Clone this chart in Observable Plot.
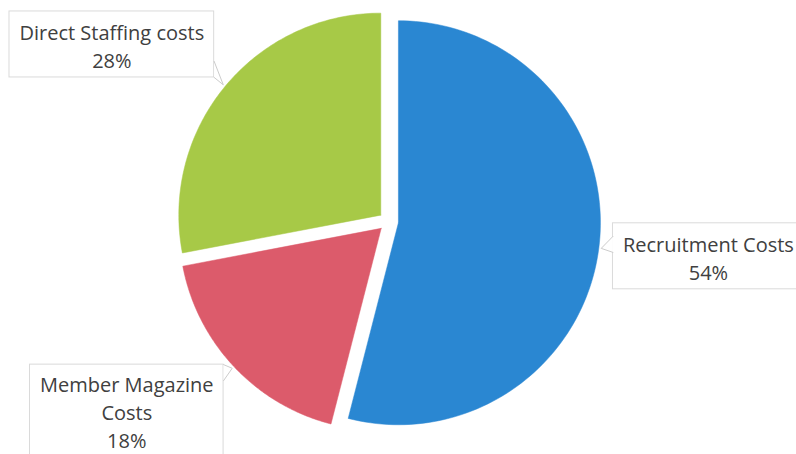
<!DOCTYPE html>
<html><head><meta charset="utf-8">
<script src="https://cdn.jsdelivr.net/npm/d3@7"></script>
<script src="https://cdn.jsdelivr.net/npm/@observablehq/plot@0.6"></script>
<style>body{margin:0;background:#fff;} #chart{width:796px;height:454px;overflow:hidden;} svg text{font-variant-ligatures:none;}</style>
</head><body><div id="chart"></div>
<script>
// ---- data ----
const categories = ["Recruitment Costs", "Member Magazine Costs", "Direct Staffing costs"];
const labelLines = [["Recruitment Costs"], ["Member Magazine", "Costs"], ["Direct Staffing costs"]];
const values = [54, 18, 28];
const colors = ["#2a87d2", "#dc5b6b", "#a7c947"];

// ---- layout (styling, not data) ----
const W = 796, H = 454, CX = 388, CY = 221, R = 202, EXPLODE = 10;
const FONT_SIZE = 20, FONT_FAMILY = "Open Sans", LINE_H = 28, PAD_X = 10, PAD_Y = 5;
const KX = 1.12, KY = 1.375;

const ctx = document.createElement("canvas").getContext("2d");
ctx.font = `${FONT_SIZE}px "${FONT_FAMILY}"`;

const arcs = d3.pie().sort(null).value(d => d)(values);
const off = EXPLODE / R;
const toUX = px => (px - CX) / R, toUY = py => (CY - py) / R;

const slicePts = [], boxes = [], texts = [], pointers = [];
arcs.forEach((a, i) => {
  const cat = categories[i];
  const mid = (a.startAngle + a.endAngle) / 2;
  const dx = Math.sin(mid), dy = Math.cos(mid);
  const ox = off * dx, oy = off * dy;
  slicePts.push({cat, x: ox, y: oy});
  const n = 120;
  for (let k = 0; k <= n; k++) {
    const t = a.startAngle + (a.endAngle - a.startAngle) * k / n;
    slicePts.push({cat, x: ox + Math.sin(t), y: oy + Math.cos(t)});
  }
  slicePts.push({cat, x: ox, y: oy});

  // label box
  const lines = [...labelLines[i], `${values[i]}%`];
  const tw = d3.max(lines, l => ctx.measureText(l).width);
  const bw = tw + 2 * PAD_X, bh = lines.length * LINE_H + 2 * PAD_Y;
  const nearX = CX + KX * dx * R;
  const cyPx = CY - KY * dy * R;
  const x1 = dx > 0 ? nearX : nearX - bw, x2 = dx > 0 ? nearX + bw : nearX;
  const top = cyPx - bh / 2, bottom = cyPx + bh / 2;
  boxes.push({cat, x1: toUX(x1), x2: toUX(x2), y1: toUY(bottom), y2: toUY(top)});
  // keep the text block inside the picture
  const maxC = H - 2 - (lines.length - 1) / 2 * LINE_H - 0.68 * FONT_SIZE;
  const tyC = Math.min(cyPx + 1, maxC);
  texts.push({cat, x: toUX((x1 + x2) / 2), y: toUY(tyC), text: lines.join("\n")});

  // callout pointer
  const tr = 1 + off + 0.012;
  const tx = tr * dx, ty = tr * dy;
  const tyPx = CY - ty * R;
  const by1 = Math.max(top, Math.min(tyPx - 12, bottom - 16)), by2 = by1 + 16;
  pointers.push({cat, x: nearX, y: by1});
  pointers.push({cat, x: CX + tx * R, y: tyPx});
  pointers.push({cat, x: nearX, y: by2});
});
const pointerPts = pointers.map(p => ({cat: p.cat, x: toUX(p.x), y: toUY(p.y)}));

const chart = Plot.plot({
  width: W, height: H, margin: 0,
  x: {domain: [-CX / R, (W - CX) / R], axis: null},
  y: {domain: [-(H - CY) / R, CY / R], axis: null},
  color: {domain: categories, range: colors},
  style: {fontFamily: FONT_FAMILY, background: "#fff"},
  marks: [
    Plot.line(slicePts, {x: "x", y: "y", z: "cat", fill: "cat", stroke: "cat", strokeWidth: 0.5}),
    Plot.rect(boxes, {x1: "x1", x2: "x2", y1: "y1", y2: "y2", fill: "white", stroke: "#dadada", strokeWidth: 1}),
    Plot.line(pointerPts, {x: "x", y: "y", z: "cat", fill: "white", stroke: "#cccccc", strokeWidth: 1}),
    Plot.text(texts, {x: "x", y: "y", text: "text", fontSize: FONT_SIZE, fontFamily: FONT_FAMILY,
      lineHeight: LINE_H / FONT_SIZE, fill: "#404040"})
  ]
});
document.getElementById("chart").appendChild(chart);
</script>
</body></html>
